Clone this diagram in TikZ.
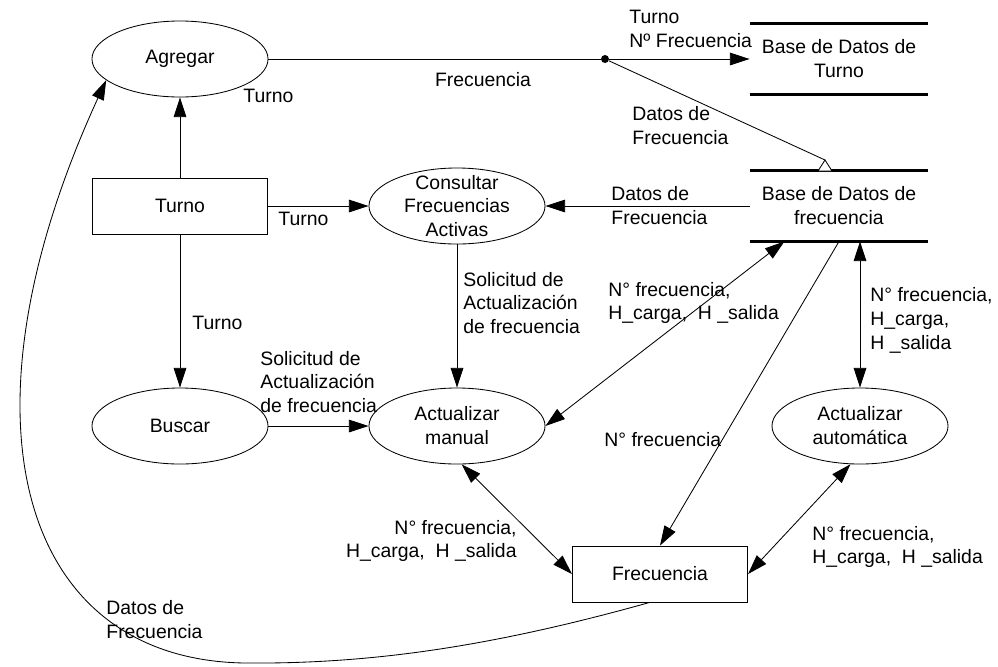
\documentclass[tikz,border=0pt]{standalone}
\usepackage{fontspec}
\setmainfont{Liberation Sans}
\usetikzlibrary{arrows.meta,shapes.geometric,positioning}

\begin{document}
\begin{tikzpicture}[x=0.025cm, y=-0.025cm,
    font=\fontsize{13.8}{17}\selectfont, line width=0.6pt,
    >={Triangle[length=14pt,width=9pt]},
    process/.style={draw, ellipse, minimum width=4.4cm, minimum height=1.9cm, inner sep=0pt, align=center},
    entity/.style={draw, rectangle, minimum width=4.38cm, minimum height=1.4cm, inner sep=0pt},
    datastore/.style={minimum width=4.45cm, minimum height=1.75cm, inner sep=0pt, align=center},
    storeLine/.style={line width=2pt},
    flowLabel/.style={inner sep=0pt, align=left, anchor=west}]
    \useasboundingbox (0,0) rectangle (998,666);

    \node[process] (agregar) at (180,59) {Agregar};
    \node[entity] (turno) at (180,206) {Turno};
    \node[process, inner ysep=-8pt] (consultar) at (457,206) {Consultar\\Frecuencias\\Activas};
    \node[process] (buscar) at (180,426) {Buscar};
    \node[process] (actManual) at (457,426) {Actualizar\\manual};
    \node[process] (actAuto) at (860,426) {Actualizar\\automática};
    \node[entity] (frec) at (660,574) {Frecuencia};
    \node[datastore] (bdTurno) at (839,59) {Base de Datos de\\Turno};
    \node[datastore] (bdFrec) at (839,206) {Base de Datos de\\frecuencia};
    \node[circle, fill, inner sep=0pt, minimum size=0.2cm] (split) at (605,59) {};
    \coordinate (triTip) at (825,160);

    \draw[storeLine] (bdTurno.north west) -- (bdTurno.north east);
    \draw[storeLine] (bdTurno.south west) -- (bdTurno.south east);
    \draw[storeLine] (bdFrec.north west) -- (bdFrec.north east);
    \draw[storeLine] (bdFrec.south west) -- (bdFrec.south east);

    \draw (agregar.east) -- (split);
    \draw[->] (split) -- (bdTurno);
    \draw (split) -- (triTip);
    \draw[fill=white] (818,171) -- (triTip) -- (832,171) -- cycle;
    \draw[->] (turno) -- (agregar);
    \draw[->] (turno) -- (consultar);
    \draw[->] (bdFrec) -- (consultar);
    \draw[->] (turno) -- (buscar);
    \draw[->] (consultar) -- (actManual);
    \draw[->] (buscar) -- (actManual);
    \draw[<->] (bdFrec.213) -- (actManual.east);
    \draw[->] (bdFrec.south) -- (frec.north);
    \draw[<->] (actAuto.north |- bdFrec.south) -- (actAuto.north);
    \draw[<->] (actManual.-83) -- (frec.west);
    \draw[<->] (actAuto.-104) -- (frec.east);
    \draw[->] (frec.250) .. controls (480,650) and (360,664) .. (245,663)
        .. controls (20,660) and (-50,420) .. (agregar.196);

    \node[flowLabel] (lblTurnoNum) at (629,29) {Turno\\Nº Frecuencia};
    \node[inner sep=0pt] (lblFrecTop) at (483,80) {Frecuencia};
    \node[flowLabel] (lblDatosTop) at (632,126) {Datos de\\Frecuencia};
    \node[flowLabel] (lblTurnoA) at (243,96) {Turno};
    \node[flowLabel] (lblTurnoB) at (278,219) {Turno};
    \node[flowLabel] (lblDatosMid) at (611,206) {Datos de\\Frecuencia};
    \node[flowLabel] (lblTurnoC) at (192,323) {Turno};
    \node[flowLabel] (lblSolA) at (463,303) {Solicitud de\\Actualización\\de frecuencia};
    \node[flowLabel] (lblSolB) at (260,382) {Solicitud de\\Actualización\\de frecuencia};
    \node[flowLabel] (lblNumA) at (608,303) {N° frecuencia,\\H\_carga, \ H \_salida};
    \node[flowLabel] (lblNumB) at (604,440) {N° frecuencia};
    \node[flowLabel] (lblNumC) at (870,320) {N° frecuencia,\\H\_carga,\\H \_salida};
    \node[flowLabel, anchor=east, align=right] (lblNumD) at (517,541) {N° frecuencia,\\H\_carga, \ H \_salida};
    \node[flowLabel] (lblNumE) at (812,547) {N° frecuencia,\\H\_carga, \ H \_salida};
    \node[flowLabel] (lblDatosLow) at (106,620) {Datos de\\Frecuencia};
\end{tikzpicture}
\end{document}
